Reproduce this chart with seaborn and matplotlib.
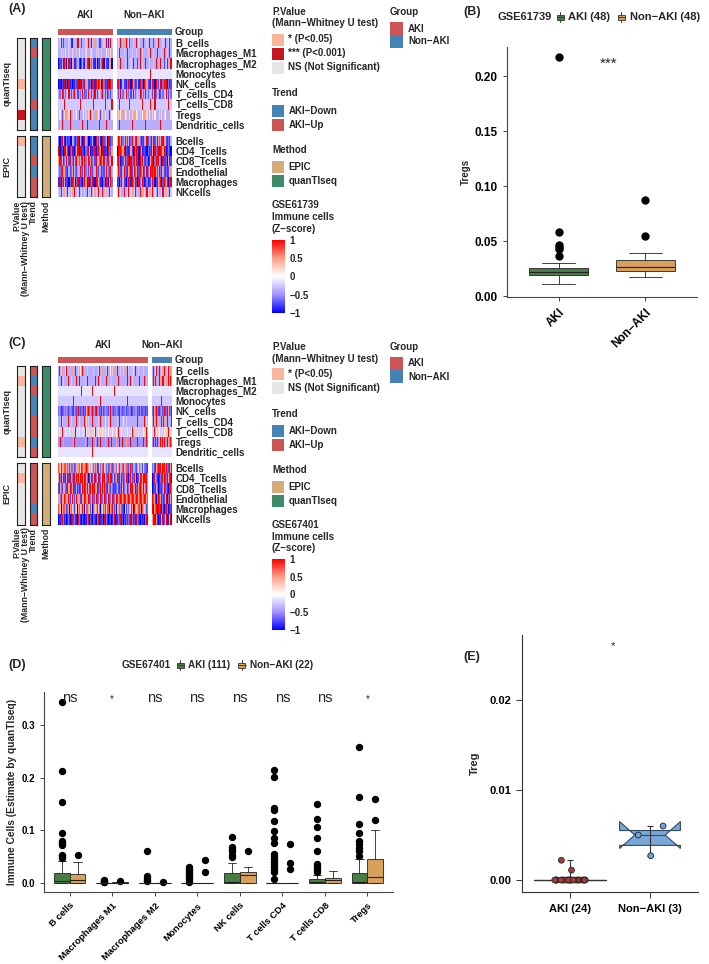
import numpy as np
import pandas as pd
import matplotlib
matplotlib.use("Agg")
import matplotlib.pyplot as plt
import seaborn as sns
from matplotlib import cbook
from matplotlib.colors import LinearSegmentedColormap, ListedColormap
from matplotlib.patches import Rectangle
from matplotlib.lines import Line2D

# ---------------- data ----------------
quant_cells = ["B_cells", "Macrophages_M1", "Macrophages_M2", "Monocytes", "NK_cells",
               "T_cells_CD4", "T_cells_CD8", "Tregs", "Dendritic_cells"]
epic_cells = ["Bcells", "CD4_Tcells", "CD8_Tcells", "Endothelial", "Macrophages", "NKcells"]

# heatmap z-scores, one letter per sample:
# a..q = -1 .. +1 in steps of 0.125 (i = 0)
LEVELS = "abcdefghijklmnopq"

A_quant_aki = [
    "fgqfcfff mgfqbfgf fqgfcfmf gfqffbgf mfgfqcff gfqfbfqg",
    "ffkfgfjf fgffkfff gfjffgff kfffgjff fgfkffgf ffjfgfkf",
    "acqfbqda fqcamfbq dfqacfqb fcqamdfq bfacqfdq afcqbfma",
    "hhhhhhhh hhhhhhhh hhhhhhhh hhhhhhhh hhhhhhhh hhhhhhhh",
    "abacbqac aqbcaqbd cqaqbdcq fmcqdaqc bqdqcmaq dqcbqaqd",
    "fdfqcfdf gqfcfdqf fcfdfqfc dfqffcfd qfcfgfdq fcfqdfcf",
    "gggggqgg gggggggg gggqgggg gggggggq gggggggg gqgggggq",
    "fjfcfkfm fjqffkfg jfcfmfjf gfkfqfjf fmfjfcfk fjfgfqfj",
    "fffqffff ffqfffff fffffqff fqffffff ffffqfff ffqfffff",
]
A_quant_non = [
    "fgfqffmf qfgcffgf fqfgfmfq ffgfqfff cfgfqmff gfqffgqf",
    "fgqfffgf fqfffgff fgffqfgf fffgfqff gffqfffg fqffgfqf",
    "fgfqfffg fqffgfqf ffcfqfgf fqffgfmf gfqfffqf fcfgqffq",
    "hhhhhhhh hhhhhhhh hhhhhhhh hhhhhqhh hhhhhhhh hhhhhhhh",
    "cqdaqfcq bdqcaqmd qcfbqdca qdmcqbfq caqdcfqb dqcqadqc",
    "fcfqfdfg qfdfcfqf dfgfqcfd fqfdfgfc fqdffqcf dfgqfcfd",
    "ggqggggg gggqgggg ggggggqg gggggqgg gqgggggg gggggqgg",
    "fkfjfmfj kffjfkfm fjkfgfjf mfkfjffk fjfmfkfj fkjfmffj",
    "ffqfffff fffffqff ffffffff fqffffff ffffffqf ffffffff",
]
A_epic_aki = [
    "dacqfbad qcaafmcb dqafcabq fdaacqfb aqdcfbaq cdfaqbcd",
    "qaqcaqbm caqdbqac mqaqbcqa dcqmaqbc qacqdmaq bqcaqdcm",
    "mqcfqdmq fcqmdqfc qmdfcqmq dfqcmqdf cqmfdqcm qfdcqmfq",
    "fdcqfmdc qfcdmqfd cfmqdcfq dmcfqdcm fqdcmfqd cfqmdcqf",
    "bqadqmbc qadbqcma dqbcqadq mbqacdqb aqcmdbqa dbqcamqd",
    "gfqgfmgf qgfgmfqg fgqfgfmg fqgfgqfg mgfqgfgq fgmgfqgf",
]
A_epic_non = [
    "fqcmqdfq mcfqdqmf cqfmdqcq fmqcfdqm qcfqmdfc qmfcqdqf",
    "aqcqdmqa cqbqmcaq dqcaqmbq cqadqcqm aqdcqbqc mqcaqdqa",
    "cqdaqcmq dcqaqdcq mqcaqdqm cqdaqmcq adqcqmda qcqdamqc",
    "mqdcqfqd cqmdqcfq dmqcqdmq cfqdmqcq dqmcfqdq mcqdqcfm",
    "qcadqmcq adqcbqdm qcaqdmqc aqdbqcmq dacqmdqa cqdmqacq",
    "gqfgmfqg fgqfgmfg qfgfqgmf gfqgfmgq fgfqgmfg qgfmgfqg",
]

C_quant_aki = [
    "fqfgfmff gfqfffjf fmfgfqff fgfjffqf ffmfgfff qffgfjff fgfqffmf fffgfqff jffgfmff fqfffgff gfmffqfg ffgffjfq fffgfmff fgqffff",
    "fffqffgf ffffqfff gfffffqf ffqfffff fgffqfff ffffffqf fqffgfff fffqffff ffgfffqf ffqfffff fffffqff fqffgfff ffffqfff fffqfff",
    "hhhhhhhh hqhhhhhh hhhhhhhh hhhhqhhh hhhhhhhh hhqhhhhh hhhhhhhh hhhhhhhh hhhhhqhh hhhhhhhh hhhhhhhh hhhhhhhh hhhhhhhh hhhhhhh",
    "gggggggg gggggggg ggqggggg gggggggg gggggggg gggggggg ggggqggg gggggggg gggggggg gggggggg gggggqgg gggggggg gggggggg ggggggg",
    "dedqdcde dqedcdme dcqdedcd eqdcdedq dcemdqde cdqdedcq dedcdqed cdedmdce qdedcdqd edcqdedc dmdecdqd edqdcede decdqdec cdedqdc",
    "fffqfgff fjffqfff gffmffqf ffgfffff qffjfgff ffqfffmf fgffqfff ffjfffgf qfffmfff fgfqffff jfffgfqf fffmffff gfqffjff fffqfgf",
    "gjgkgqgg jggkgjgg gkgjgqgj ggjgkggj gqgjgkgg jgkgjgqg gjggkgjg kgjgqgjg gkgjggkg jgqgkgjg gjgkgjgg kgjgqgkg jggkgjgg gjgkgqg",
    "eeqeeeme eqeeeeqe eemeqeee qeeeeqee emeeqeee eeqeeeme qeeeqeee eemeeeqe eeqeeeee meeqeeeq eeeemeqe eqeeeeee eeqeemee eqeeeqe",
    "hhhhhhhh hhhhhhhh hhhhhhhh hhhhhhhh hhhhhhhh hhqhhhhh hhhhhhhh hhhhhhhh hhhhhhhh hhhhhhhh hhhhhhhh hhhhhhhh hhhhhhhh hhhhhhh",
]
C_quant_non = [
    "fqmfgqff qfgmffqf fgqfmf",
    "fqfmqfff qmfqfqff mfqfqf",
    "hhhhhhhh hhhhhhhh hhhhhh",
    "gggggggg ggqggggg gggggg",
    "dqcmdqdc qdmcqdqc dqmcdq",
    "fqfmfqff mfqffqmf fqfmfq",
    "gkgqgjgk jgkgqgjg kgqgjg",
    "eqmeqeqe mqeqemqe eqmeqe",
    "hhhhhhhh hhhhhhhh hhhhhh",
]
C_epic_aki = [
    "omkcqmfo dkmofckm odmkcomf omdkcmof mocqdmkf ckmofdom qcmkdfom ckmdofco mkdcomqf dkmcofmo ckfmodkc mqdkcmfo ocmkdqfm ckmdocq",
    "mqdqamqc qdmqcqaq mdqcqmqd aqmqcdqm qcqmdaqm dqcmqaqd mqcqdmqa cqmdqcqm qaqdmcqd mqcqamqd cqdmqcqa dqmqcdqm qaqcmdqc mqdqcqm",
    "cqmdqcfm dqcqmfdq cmqdcqfq mdqcfmqd qcdmqfcq dmqcqdfm qcmdqfqc mqdcfqmd cqmdqcfq dmcqfdqm qcdmfqcd mqcdqfmq cdqmcfqd mqcfdqm",
    "mfdqcmfq dcmfqdmc fqmdcfqm dmfcqdmf qcdmfqcd mfqdcmfq cdmfqcdm fqcdmfqc dmfqcdmf qcmdfqcm dfqcmdfq cmdfqcmd fqcmdfqc mdfqcmd",
    "omkaqmdo mkcomaqm dkmocmka omdkmcqm akmodmkc mkaomdkm ckmoamkd omckmdoa mkdqmcom akmdkmoc qmakcmod mkcomaqm dkmocqma omdkmco",
    "aqbcaqdb cqabdqca bqcadqba cqdbaqcb aqcbdqac bqadcqba dqcabqcd aqbdcqab cqabdqca bqdcaqbc aqcbdqad cqbadqcb aqdcbqac bqcadqb",
]
C_epic_non = [
    "dmqcqmdq cqmqdcqm qdcqmq",
    "aqcqmdqa qdcqamqc dqmcqa",
    "aqdcqmda qcqdamqc dqacqd",
    "qdcmqadq cmqdaqcm qadqmc",
    "qaqmdqaq cqadmqac qdaqcq",
    "mqaqbmqa qbmqaqcm qabmqa",
]

# row annotations
A_pval_quant = ["NS", "NS", "NS", "NS", "*", "NS", "NS", "***", "NS"]
A_trend_quant = ["AKI−Down", "AKI−Up", "AKI−Down", "AKI−Down", "AKI−Down",
                 "AKI−Down", "AKI−Up", "AKI−Down", "AKI−Down"]
A_pval_epic = ["*", "NS", "NS", "NS", "NS", "NS"]
A_trend_epic = ["AKI−Down", "AKI−Down", "AKI−Up", "AKI−Down", "AKI−Up", "AKI−Up"]
C_pval_quant = ["NS", "*", "NS", "NS", "NS", "NS", "NS", "*", "NS"]
C_trend_quant = ["AKI−Up", "AKI−Down", "AKI−Up", "AKI−Down", "AKI−Down",
                 "AKI−Up", "AKI−Up", "AKI−Down", "AKI−Up"]
C_pval_epic = ["NS", "*", "NS", "NS", "NS", "NS"]
C_trend_epic = ["AKI−Up", "AKI−Up", "AKI−Up", "AKI−Up", "AKI−Down", "AKI−Up"]

# panel B : GSE61739 Tregs box summaries
b_groups = ["AKI", "Non−AKI"]
b_q1 = [0.0190, 0.0230]
b_med = [0.0220, 0.0267]
b_q3 = [0.0255, 0.0324]
b_lo = [0.0110, 0.0176]
b_hi = [0.0300, 0.0390]
b_out = [[0.036, 0.043, 0.045, 0.046, 0.058, 0.217], [0.055, 0.087]]

# panel D : GSE67401 quanTIseq box summaries
d_cells = ["B cells", "Macrophages M1", "Macrophages M2", "Monocytes", "NK cells",
           "T cells CD4", "T cells CD8", "Tregs"]
d_sig = ["ns", "*", "ns", "ns", "ns", "ns", "ns", "*"]
d_aki_q1 = [0, 0, 0, 0, 0, 0, 0, 0]
d_aki_med = [0.003, 0, 0, 0, 0.002, 0, 0.001, 0.002]
d_aki_q3 = [0.018, 0, 0, 0, 0.018, 0, 0.0076, 0.019]
d_aki_hi = [0.041, 0, 0, 0, 0.037, 0, 0.015, 0.046]
d_aki_out = [
    [0.345, 0.212, 0.154, 0.094, 0.080, 0.076, 0.072, 0.053, 0.050, 0.047],
    [0.006, 0.004, 0.002, 0.001],
    [0.061, 0.012, 0.009, 0.006, 0.003],
    [0.029, 0.026, 0.022, 0.019, 0.016, 0.012, 0.009, 0.005, 0.002],
    [0.087, 0.068, 0.064, 0.060, 0.053, 0.049],
    [0.215, 0.201, 0.142, 0.138, 0.117, 0.099, 0.085, 0.075, 0.055, 0.050,
     0.045, 0.040, 0.035, 0.030, 0.025, 0.020, 0.007],
    [0.149, 0.122, 0.106, 0.086, 0.061, 0.036, 0.032, 0.028, 0.024, 0.020],
    [0.259, 0.163, 0.111, 0.094, 0.080, 0.073, 0.066, 0.060, 0.050],
]
d_non_q1 = [0, 0, 0, 0, 0, 0, 0, 0]
d_non_med = [0.005, 0, 0, 0, 0.015, 0, 0.005, 0.010]
d_non_q3 = [0.0165, 0.001, 0, 0, 0.020, 0, 0.0095, 0.046]
d_non_hi = [0.040, 0.002, 0, 0, 0.030, 0, 0.023, 0.100]
d_non_out = [[0.053], [0.004], [0.002], [0.044, 0.021], [0.060],
             [0.074, 0.037, 0.027], [], [0.160, 0.120]]

# panel E : Treg values per sample
e_groups = ["AKI (24)", "Non−AKI (3)"]
e_aki_vals = [0.0, 0.0, 0.0, 0.0, 0.0, 0.0, 0.0, 0.0, 0.0, 0.0, 0.0, 0.0,
              0.0, 0.0, 0.0, 0.0, 0.0, 0.0, 0.0, 0.0, 0.0, 0.0, 0.0022, 0.0011]
e_non_vals = [0.0060, 0.0050, 0.0027]

# ---------------- style ----------------
sns.set_theme(style="ticks")
plt.rcParams["font.family"] = ["Liberation Sans", "DejaVu Sans"]
plt.rcParams["font.weight"] = "bold"
plt.rcParams["axes.labelweight"] = "bold"

W, H = 709, 964
fig = plt.figure(figsize=(W / 100, H / 100), dpi=100)
fig.patch.set_facecolor("white")

zcmap = LinearSegmentedColormap.from_list(
    "z", [(0, "#0000FF"), (0.25, "#A291FF"), (0.375, "#D0C8FF"), (0.5, "#FFFFFF"),
          (0.625, "#FFD0C4"), (0.75, "#FF9E86"), (1, "#FF0000")])
GROUP_COL = ["#CD5555", "#4682B4"]
PV_ORDER = ["*", "***", "NS"]
PV_COL = ["#F7B59C", "#C8161D", "#E6E6E6"]
TR_ORDER = ["AKI−Down", "AKI−Up"]
TR_COL = ["#4682B4", "#CD5555"]
ME_ORDER = ["EPIC", "quanTIseq"]
ME_COL = ["#D2AD7A", "#3C8C68"]
BOX_COL = ["#4A7C45", "#D8A05A"]


def add_ax(x0, y0, x1, y1):
    return fig.add_axes([x0 / W, 1 - y1 / H, (x1 - x0) / W, (y1 - y0) / H])


def ftext(x, y, s, **kw):
    kw.setdefault("fontweight", "bold")
    return fig.text(x / W, 1 - y / H, s, **kw)


def frect(x0, y0, x1, y1, color, **kw):
    fig.add_artist(Rectangle((x0 / W, 1 - y1 / H), (x1 - x0) / W, (y1 - y0) / H,
                             transform=fig.transFigure, facecolor=color,
                             edgecolor=kw.pop("edgecolor", "none"), **kw))


def decode(rows, ncol):
    out = []
    for s in rows:
        s = s.replace(" ", "")
        if len(s) != ncol:
            raise ValueError(f"row length {len(s)} != {ncol}: {s[:16]}")
        out.append([(LEVELS.index(c) - 8) / 8 for c in s])
    return np.array(out)


def ann_col(codes, order, colors, box):
    ax = add_ax(*box)
    idx = np.array([order.index(c) for c in codes]).reshape(-1, 1)
    sns.heatmap(idx, ax=ax, cmap=ListedColormap(colors), vmin=-0.5, vmax=len(colors) - 0.5,
                cbar=False, xticklabels=False, yticklabels=False)
    for sp in ax.spines.values():
        sp.set_visible(True)
        sp.set_linewidth(0.8)
        sp.set_edgecolor("#222222")


def heat_panel(tag, tag_y, head_y, xa, xn, yg, yq, ye, mats, pvs, trs, cb_box, n_aki, n_non):
    ftext(8, tag_y, tag, ha="left", va="center", fontsize=9)
    ftext((xa[0] + xa[1]) / 2, head_y, "AKI", ha="center", va="center", fontsize=7)
    ftext((xn[0] + xn[1]) / 2, head_y, "Non−AKI", ha="center", va="center", fontsize=7)
    for (x0, x1), n, col in [(xa, n_aki, GROUP_COL[0]), (xn, n_non, GROUP_COL[1])]:
        ax = add_ax(x0, yg[0], x1, yg[1])
        sns.heatmap(np.zeros((1, n)), ax=ax, cmap=ListedColormap([col]), cbar=False,
                    xticklabels=False, yticklabels=False)
    ftext(175, (yg[0] + yg[1]) / 2, "Group", ha="left", va="center", fontsize=7)

    cax = add_ax(*cb_box)
    blocks = [(yq, quant_cells, "quanTIseq"), (ye, epic_cells, "EPIC")]
    for bi, ((y0, y1), names, meth) in enumerate(blocks):
        m_aki, m_non = mats[bi]
        ax = add_ax(xa[0], y0, xa[1], y1)
        kw = dict(cmap=zcmap, vmin=-1, vmax=1, xticklabels=False, yticklabels=False)
        if bi == 0:
            sns.heatmap(m_aki, ax=ax, cbar=True, cbar_ax=cax,
                        cbar_kws={"ticks": [-1, -0.5, 0, 0.5, 1]}, **kw)
        else:
            sns.heatmap(m_aki, ax=ax, cbar=False, **kw)
        ax = add_ax(xn[0], y0, xn[1], y1)
        sns.heatmap(pd.DataFrame(m_non, index=names), ax=ax, cbar=False, **kw)
        ax.yaxis.tick_right()
        ax.set_yticks(np.arange(len(names)) + 0.5)
        ax.set_yticklabels(names, rotation=0, fontsize=7, fontweight="bold")
        ax.tick_params(axis="y", length=0, pad=3)
        ax.set_ylabel("")
        # left annotation columns
        ann_col(pvs[bi], PV_ORDER, PV_COL, (17.3, y0, 25, y1))
        ann_col(trs[bi], TR_ORDER, TR_COL, (29.5, y0, 36.7, y1))
        ann_col([meth] * len(names), ME_ORDER, ME_COL, (42, y0, 49.5, y1))
        ftext(7, (y0 + y1) / 2, meth, rotation=90, ha="center", va="center", fontsize=6.5)

    ytop = ye[1] + 3
    ftext(21.2, ytop, "P.Value\n(Mann−Whitney U test)", rotation=90, ha="center", va="top",
          multialignment="right", fontsize=6.3, linespacing=1.0)
    ftext(33.3, ytop, "Trend", rotation=90, ha="center", va="top", fontsize=6.3)
    ftext(45.8, ytop, "Method", rotation=90, ha="center", va="top", fontsize=6.3)

    cax.set_yticklabels(["−1", "−0.5", "0", "0.5", "1"])
    cax.tick_params(length=3, width=0.8, color="white", direction="in", labelsize=7, pad=3)
    for t in cax.get_yticklabels():
        t.set_fontweight("bold")


def swatch_legend(x, titles, title_ys, labels, colors, label_ys, sw=12, sh=12, tx=None):
    tx = x + 16.5 if tx is None else tx
    for s, y in zip(titles, title_ys):
        ftext(x, y, s, ha="left", va="center", fontsize=7)
    for lab, c, y in zip(labels, colors, label_ys):
        frect(x, y - sh / 2, x + sw, y + sh / 2, c)
        ftext(tx, y, lab, ha="left", va="center", fontsize=7)


def box_key(xc, yc, color):
    fig.add_artist(Line2D([xc / W, xc / W], [1 - (yc - 5) / H, 1 - (yc + 5) / H],
                          transform=fig.transFigure, color="#333333", lw=0.7, zorder=1))
    fig.add_artist(Rectangle(((xc - 3.5) / W, 1 - (yc + 2.5) / H), 7 / W, 5 / H,
                             transform=fig.transFigure, facecolor=color,
                             edgecolor="#333333", lw=0.6, zorder=2))
    fig.add_artist(Line2D([(xc - 3.5) / W, (xc + 3.5) / W], [1 - yc / H, 1 - yc / H],
                          transform=fig.transFigure, color="#333333", lw=0.6, zorder=3))


def style_axis(ax, color="#444444"):
    sns.despine(ax=ax)
    for sp in ["left", "bottom"]:
        ax.spines[sp].set_color(color)
        ax.spines[sp].set_linewidth(0.8)
    ax.tick_params(length=3, width=0.7, color=color, labelcolor="black")


# ---------------- panel A ----------------
mats_A = [(decode(A_quant_aki, 48), decode(A_quant_non, 48)),
          (decode(A_epic_aki, 48), decode(A_epic_non, 48))]
heat_panel("(A)", 9, 15, (58.3, 112.5), (116.7, 171.5), (29.3, 35), (37.8, 130), (135.5, 197.5),
           mats_A, [A_pval_quant, A_pval_epic], [A_trend_quant, A_trend_epic],
           (272, 240, 285, 313), 48, 48)
swatch_legend(272, ["P.Value", "(Mann−Whitney U test)"], [12, 23.5],
              ["* (P<0.05)", "*** (P<0.001)", "NS (Not Significant)"], PV_COL, [39.5, 53.5, 67.5])
swatch_legend(272, ["Trend"], [93], TR_ORDER, TR_COL, [111, 124.5])
swatch_legend(272, ["Method"], [150], ME_ORDER, ME_COL, [167, 181])
for s, y in zip(["GSE61739", "Immune cells", "(Z−score)"], [205, 217, 229]):
    ftext(272, y, s, ha="left", va="center", fontsize=7)
swatch_legend(390, ["Group"], [12], ["AKI", "Non−AKI"], GROUP_COL, [28.5, 41.5], sw=13, sh=13, tx=408)

# ---------------- panel C ----------------
mats_C = [(decode(C_quant_aki, 111), decode(C_quant_non, 22)),
          (decode(C_epic_aki, 111), decode(C_epic_non, 22))]
heat_panel("(C)", 343, 345, (58.3, 147.7), (151.7, 171.5), (357.3, 362.5), (365.7, 457), (463, 524.5),
           mats_C, [C_pval_quant, C_pval_epic], [C_trend_quant, C_trend_epic],
           (272, 559, 285, 630), 111, 22)
swatch_legend(272, ["P.Value", "(Mann−Whitney U test)"], [347, 358.5],
              ["* (P<0.05)", "NS (Not Significant)"], [PV_COL[0], PV_COL[2]], [374, 388])
swatch_legend(272, ["Trend"], [414], TR_ORDER, TR_COL, [431, 445])
swatch_legend(272, ["Method"], [470], ME_ORDER, ME_COL, [487, 501])
for s, y in zip(["GSE67401", "Immune cells", "(Z−score)"], [525, 537, 548]):
    ftext(272, y, s, ha="left", va="center", fontsize=7)
swatch_legend(390, ["Group"], [347], ["AKI", "Non−AKI"], GROUP_COL, [363.5, 376.5], sw=13, sh=13, tx=408)

# ---------------- panel B ----------------
ftext(463, 12, "(B)", ha="left", va="center", fontsize=9)
ftext(497, 17, "GSE61739", ha="left", va="center", fontsize=8)
box_key(560, 17, BOX_COL[0])
ftext(568, 17, "AKI (48)", ha="left", va="center", fontsize=8)
box_key(621, 17, BOX_COL[1])
ftext(630, 17, "Non−AKI (48)", ha="left", va="center", fontsize=8)

axB = add_ax(507, 47, 697, 297)
statsB = [dict(label=g, q1=a, med=m, q3=c, whislo=lo, whishi=hi, fliers=f)
          for g, a, m, c, lo, hi, f in zip(b_groups, b_q1, b_med, b_q3, b_lo, b_hi, b_out)]
bp = axB.bxp(statsB, positions=[0, 1], widths=0.68, capwidths=0.38, patch_artist=True,
             boxprops=dict(edgecolor="#222222", linewidth=0.6),
             medianprops=dict(color="#222222", linewidth=0.8),
             whiskerprops=dict(color="#222222", linewidth=0.6),
             capprops=dict(color="#222222", linewidth=0.6),
             flierprops=dict(marker="o", markerfacecolor="black", markeredgecolor="black", markersize=5))
for patch, c in zip(bp["boxes"], BOX_COL):
    patch.set_facecolor(c)
axB.set_xlim(-0.6, 1.6)
axB.set_ylim(-0.0009, 0.2264)
axB.set_yticks([0, 0.05, 0.10, 0.15, 0.20])
axB.set_yticklabels(["0.00", "0.05", "0.10", "0.15", "0.20"], fontsize=8.5, fontweight="bold")
axB.set_xticks([0, 1])
axB.set_xticklabels(b_groups, rotation=45, ha="right", rotation_mode="anchor",
                    fontsize=8.5, fontweight="bold")
style_axis(axB)
axB.set_ylabel("Tregs", fontsize=7, fontweight="bold")
axB.yaxis.set_label_coords(-0.19, 0.5)
axB.text(0.58, 0.2077, "***", ha="center", va="baseline", fontsize=11, fontweight="normal")

# ---------------- panel D ----------------
ftext(8, 665, "(D)", ha="left", va="center", fontsize=9)
ftext(122, 665, "GSE67401", ha="left", va="center", fontsize=7.2)
box_key(180, 665, BOX_COL[0])
ftext(188, 665, "AKI (111)", ha="left", va="center", fontsize=7.2)
box_key(242, 665, BOX_COL[1])
ftext(250, 665, "Non−AKI (22)", ha="left", va="center", fontsize=7.2)

axD = add_ax(44, 692, 393, 892)
pos = np.arange(len(d_cells))
box_kw = dict(widths=0.375, capwidths=0.19, patch_artist=True,
              boxprops=dict(edgecolor="#222222", linewidth=0.6),
              medianprops=dict(color="#222222", linewidth=0.8),
              whiskerprops=dict(color="#222222", linewidth=0.6),
              capprops=dict(color="#222222", linewidth=0.6),
              flierprops=dict(marker="o", markerfacecolor="black", markeredgecolor="black", markersize=4.3))
for grp, (q1s, meds, q3s, his, outs), off in [
        (0, (d_aki_q1, d_aki_med, d_aki_q3, d_aki_hi, d_aki_out), -0.1875),
        (1, (d_non_q1, d_non_med, d_non_q3, d_non_hi, d_non_out), 0.1875)]:
    st = [dict(q1=a, med=m, q3=c, whislo=a, whishi=hi, fliers=f)
          for a, m, c, hi, f in zip(q1s, meds, q3s, his, outs)]
    bpd = axD.bxp(st, positions=pos + off, **box_kw)
    for patch in bpd["boxes"]:
        patch.set_facecolor(BOX_COL[grp])
axD.set_xlim(-0.6, 7.6)
axD.set_ylim(-0.0177, 0.3632)
axD.set_yticks([0, 0.1, 0.2, 0.3])
axD.set_yticklabels(["0.0", "0.1", "0.2", "0.3"], fontsize=7, fontweight="bold")
axD.set_xticks(pos)
axD.set_xticklabels(d_cells, rotation=45, ha="right", rotation_mode="anchor",
                    fontsize=6.8, fontweight="bold")
style_axis(axD)
axD.set_ylabel("Immune Cells (Estimate by quanTIseq)", fontsize=7.3, fontweight="bold")
axD.yaxis.set_label_coords(-0.077, 0.5)
for p, s in zip(pos, d_sig):
    axD.text(p, 0.344, s, ha="center", va="baseline", fontweight="normal",
             fontsize=10.5 if s == "ns" else 7)

# ---------------- panel E ----------------
ftext(463, 657, "(E)", ha="left", va="center", fontsize=9)
axE = add_ax(522, 635, 698, 892)
e_df = pd.DataFrame({
    "group": [e_groups[0]] * len(e_aki_vals) + [e_groups[1]] * len(e_non_vals),
    "value": e_aki_vals + e_non_vals,
})
statsE = []
for g, vals in zip(e_groups, [e_aki_vals, e_non_vals]):
    st = cbook.boxplot_stats(np.array(vals))[0]
    st["whislo"], st["whishi"], st["fliers"] = st["q1"], st["q3"], []
    st["label"] = g
    statsE.append(st)
bpe = axE.bxp(statsE, positions=[0, 1], widths=[0.91, 0.76], shownotches=True,
              patch_artist=True, showcaps=False,
              boxprops=dict(edgecolor="#2E4A66", linewidth=0.8),
              medianprops=dict(color="#2E4A66", linewidth=0.8),
              whiskerprops=dict(linewidth=0))
bpe["boxes"][0].set_facecolor("#FFFFFF")
bpe["boxes"][0].set_edgecolor("#333333")
bpe["medians"][0].set_color("#333333")
bpe["boxes"][1].set_facecolor("#7BA7D7")
mins = e_df.groupby("group", sort=False)["value"].min().values
maxs = e_df.groupby("group", sort=False)["value"].max().values
axE.errorbar([0, 1], (mins + maxs) / 2, yerr=(maxs - mins) / 2, fmt="none",
             ecolor="#333333", elinewidth=0.8, capsize=2, capthick=0.8, zorder=4)
np.random.seed(7)
sns.stripplot(data=e_df, x="group", y="value", hue="group", order=e_groups,
              palette={e_groups[0]: "#A33A3D", e_groups[1]: "#6FA3DA"},
              jitter=0.2, size=4.2, edgecolor="#222222", linewidth=0.6,
              legend=False, ax=axE, zorder=5)
axE.set_xlim(-0.6, 1.6)
axE.set_ylim(-0.00133, 0.02722)
axE.set_yticks([0, 0.01, 0.02])
axE.set_yticklabels(["0.00", "0.01", "0.02"], fontsize=8, fontweight="bold")
axE.set_xticks([0, 1])
axE.set_xticklabels(e_groups, fontsize=8, fontweight="bold")
axE.set_xlabel("")
style_axis(axE, "#333333")
axE.tick_params(axis="y", length=4, pad=4)
axE.tick_params(axis="x", length=4, pad=5)
axE.set_ylabel("Treg", fontsize=8, fontweight="bold")
axE.yaxis.set_label_coords(-0.239, 0.5)
axE.text(0.54, 0.02567, "*", ha="center", va="baseline", fontsize=8, fontweight="normal")

fig.savefig("out.png", dpi=100)
